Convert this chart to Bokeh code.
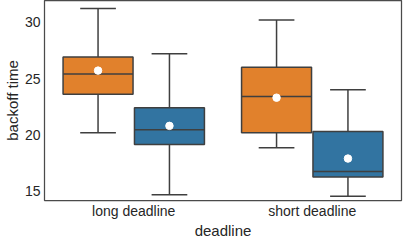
from bokeh.plotting import figure
from bokeh.models import ColumnDataSource, FactorRange, Range1d, FixedTicker
from bokeh.transform import dodge
from bokeh.embed import file_html
from bokeh.resources import INLINE

categories = ["long deadline", "short deadline"]

# hue A (orange)
a_whisk_hi = [31.2, 30.2]
a_q3 = [26.9, 26.0]
a_median = [25.4, 23.4]
a_q1 = [23.6, 20.2]
a_whisk_lo = [20.2, 18.85]
a_mean = [25.7, 23.3]

# hue B (blue)
b_whisk_hi = [27.2, 24.0]
b_q3 = [22.4, 20.3]
b_median = [20.45, 16.75]
b_q1 = [19.15, 16.27]
b_whisk_lo = [14.7, 14.55]
b_mean = [20.8, 17.9]

y_ticks = [15, 20, 25, 30]

FONT = "Liberation Sans"
EDGE = "#3f3f3f"

p = figure(width=408, height=244, output_backend="svg", toolbar_location=None,
           x_range=FactorRange(*categories), y_range=Range1d(14.18, 31.92),
           min_border_left=37, min_border_right=7, min_border_top=0, min_border_bottom=44)
p.background_fill_color = "white"
p.border_fill_color = "white"
p.outline_line_color = "#4a4a4a"
p.outline_line_width = 1.25
p.xgrid.visible = False
p.ygrid.visible = False

series = [
    (-0.2, "#e1812c", a_whisk_hi, a_q3, a_median, a_q1, a_whisk_lo, a_mean),
    (0.2, "#3274a1", b_whisk_hi, b_q3, b_median, b_q1, b_whisk_lo, b_mean),
]
for off, color, hi, q3, med, q1, lo, mean in series:
    src = ColumnDataSource(dict(cat=categories, hi=hi, q3=q3, med=med, q1=q1, lo=lo, mean=mean))
    xd = dodge("cat", off, range=p.x_range)
    p.segment(x0=xd, y0="q3", x1=xd, y1="hi", source=src, line_color=EDGE, line_width=1.5)
    p.segment(x0=xd, y0="q1", x1=xd, y1="lo", source=src, line_color=EDGE, line_width=1.5)
    p.segment(x0=dodge("cat", off - 0.1, range=p.x_range), y0="hi",
              x1=dodge("cat", off + 0.1, range=p.x_range), y1="hi",
              source=src, line_color=EDGE, line_width=1.5)
    p.segment(x0=dodge("cat", off - 0.1, range=p.x_range), y0="lo",
              x1=dodge("cat", off + 0.1, range=p.x_range), y1="lo",
              source=src, line_color=EDGE, line_width=1.5)
    p.vbar(x=xd, width=0.392, top="q3", bottom="q1", source=src,
           fill_color=color, line_color=EDGE, line_width=1.5)
    p.segment(x0=dodge("cat", off - 0.196, range=p.x_range), y0="med",
              x1=dodge("cat", off + 0.196, range=p.x_range), y1="med",
              source=src, line_color=EDGE, line_width=1.5)
    p.scatter(x=xd, y="mean", source=src, size=7.5, fill_color="white", line_color="white")

for ax in (p.xaxis[0], p.yaxis[0]):
    ax.axis_line_color = None
    ax.major_tick_line_color = None
    ax.minor_tick_line_color = None
    ax.major_tick_out = 0
    ax.major_tick_in = 0
    ax.minor_tick_out = 0
    ax.minor_tick_in = 0
    ax.major_label_text_font = FONT
    ax.major_label_text_font_size = "14px"
    ax.major_label_text_color = "#262626"
    ax.major_label_text_line_height = 1.0
    ax.axis_label_text_font = FONT
    ax.axis_label_text_font_size = "15px"
    ax.axis_label_text_font_style = "normal"
    ax.axis_label_text_color = "#262626"
    ax.axis_label_text_line_height = 1.0

p.yaxis.ticker = FixedTicker(ticks=y_ticks)
p.yaxis.axis_label = "backoff time"
p.xaxis.axis_label = "deadline"
p.xaxis.major_label_standoff = 2
p.yaxis.major_label_standoff = 4
p.xaxis.axis_label_standoff = 0
p.yaxis.axis_label_standoff = 1

open("out.html", "w").write(file_html(p, INLINE))
